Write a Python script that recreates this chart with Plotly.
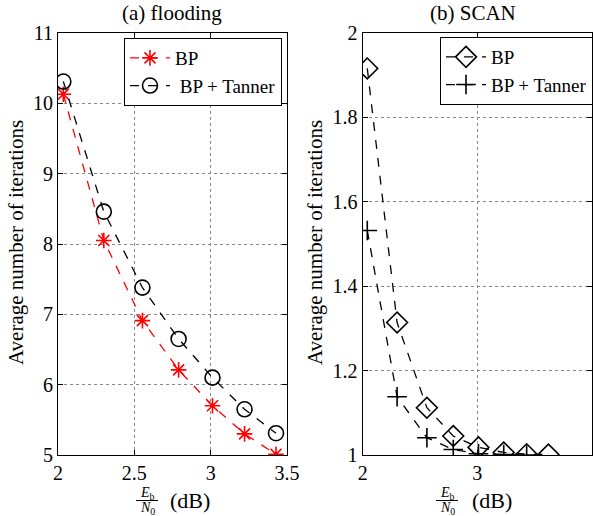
import plotly.graph_objects as go

# ---- data ----
ebn0_flood = [2.035, 2.30, 2.553, 2.79, 3.012, 3.222, 3.428]
flood_bp = [10.13, 8.05, 6.91, 6.21, 5.70, 5.30, 5.01]
flood_bp_tanner = [10.31, 8.46, 7.38, 6.65, 6.10, 5.65, 5.31]

ebn0_scan_bp = [2.04, 2.30, 2.56, 2.79, 3.01, 3.23, 3.43, 3.62]
scan_bp = [1.916, 1.314, 1.112, 1.045, 1.018, 1.006, 1.002, 1.001]
ebn0_scan_tanner = [2.04, 2.30, 2.56, 2.79, 3.01, 3.23, 3.43]
scan_bp_tanner = [1.532, 1.138, 1.041, 1.013, 1.003, 1.001, 1.000]

titles = ["(a) flooding", "(b) SCAN"]
ytitle = "Average number of iterations"

W, H = 595, 516
FONT = "Liberation Serif"

def px_x(p):
    return p / W

def px_y(p):
    return 1 - p / H

fig = go.Figure()

fig.add_trace(go.Scatter(
    x=ebn0_flood, y=flood_bp, name="BP", mode="lines+markers",
    line=dict(color="red", dash="dash", width=1.3),
    marker=dict(symbol="asterisk-open", size=13, line=dict(color="red", width=1.6)),
    xaxis="x", yaxis="y", legend="legend"))
fig.add_trace(go.Scatter(
    x=ebn0_flood, y=flood_bp_tanner, name=" BP + Tanner", mode="lines+markers",
    line=dict(color="black", dash="dash", width=1.3),
    marker=dict(symbol="circle-open", size=15, color="black", line=dict(color="black", width=1.6)),
    xaxis="x", yaxis="y", legend="legend"))

fig.add_trace(go.Scatter(
    x=ebn0_scan_bp, y=scan_bp, name="BP", mode="lines+markers",
    line=dict(color="black", dash="dash", width=1.3),
    marker=dict(symbol="diamond-open", size=16, color="black", line=dict(color="black", width=1.6)),
    xaxis="x2", yaxis="y2", legend="legend2"))
fig.add_trace(go.Scatter(
    x=ebn0_scan_tanner, y=scan_bp_tanner, name="BP + Tanner", mode="lines+markers",
    line=dict(color="black", dash="dash", width=1.3),
    marker=dict(symbol="cross-thin-open", size=14, color="black", line=dict(color="black", width=1.6)),
    xaxis="x2", yaxis="y2", legend="legend2"))

ydom = [px_y(455), px_y(33)]
axis_common = dict(
    showline=True, linecolor="black", linewidth=1.2, mirror="ticks",
    ticks="inside", ticklen=5, tickcolor="black",
    showgrid=True, gridcolor="#888", griddash="dot", gridwidth=1,
    zeroline=False, automargin=False,
    tickfont=dict(family=FONT, size=20, color="black"),
)

fig.update_layout(
    width=W, height=H,
    margin=dict(l=0, r=0, t=0, b=0, autoexpand=False),
    paper_bgcolor="white", plot_bgcolor="white",
    font=dict(family=FONT, size=16, color="black"),
    xaxis=dict(domain=[px_x(58), px_x(287)], range=[2, 3.5],
               tickvals=[2, 2.5, 3, 3.5], ticktext=["2", "2.5", "3", "3.5"],
               anchor="y", **axis_common),
    yaxis=dict(domain=ydom, range=[5, 11], tickvals=[5, 6, 7, 8, 9, 10, 11],
               anchor="x", **axis_common),
    xaxis2=dict(domain=[px_x(362.7), px_x(592)], range=[2, 4],
                tickvals=[2, 3, 4], anchor="y2", **axis_common),
    yaxis2=dict(domain=ydom, range=[1, 2], tickvals=[1, 1.2, 1.4, 1.6, 1.8, 2],
                ticktext=["1", "1.2", "1.4", "1.6", "1.8", "2"],
                anchor="x2", **axis_common),
    legend=dict(x=px_x(282), y=px_y(38), xanchor="right", yanchor="top",
                bordercolor="black", borderwidth=1, bgcolor="white",
                font=dict(family=FONT, size=19), tracegroupgap=0, itemwidth=40),
    legend2=dict(x=px_x(593), y=px_y(37), xanchor="right", yanchor="top",
                 bordercolor="black", borderwidth=1, bgcolor="white",
                 font=dict(family=FONT, size=19), tracegroupgap=0, itemwidth=40),
    showlegend=True,
)

def text_at(text, xp, yp, size, xa="center", ya="middle", angle=0):
    return dict(text=text, x=px_x(xp), y=px_y(yp), xref="paper", yref="paper",
                xanchor=xa, yanchor=ya, textangle=angle, showarrow=False,
                font=dict(family=FONT, size=size, color="black"))

ann = []
ann.append(text_at(titles[0], 172, 13, 21))
ann.append(text_at(titles[1], 473, 13, 21))
for xc in (16, 315):
    ann.append(text_at(ytitle, xc, 243, 21, angle=-90))
shapes = []
for fc, dbc in ((147, 190), (447, 492)):
    ann.append(text_at("<i>E</i><sub>b</sub>", fc, 493, 14))
    ann.append(text_at("<i>N</i><sub>0</sub>", fc, 508, 14))
    ann.append(text_at("(dB)", dbc, 500, 22))
    shapes.append(dict(type="line", xref="paper", yref="paper",
                       x0=px_x(fc - 11), x1=px_x(fc + 11), y0=px_y(500.5), y1=px_y(500.5),
                       line=dict(color="black", width=1)))

fig.update_layout(annotations=ann, shapes=shapes)

fig.write_html("out.html", config={"displayModeBar": False},
               post_script="document.body.style.margin='0';document.body.style.overflow='hidden';")
